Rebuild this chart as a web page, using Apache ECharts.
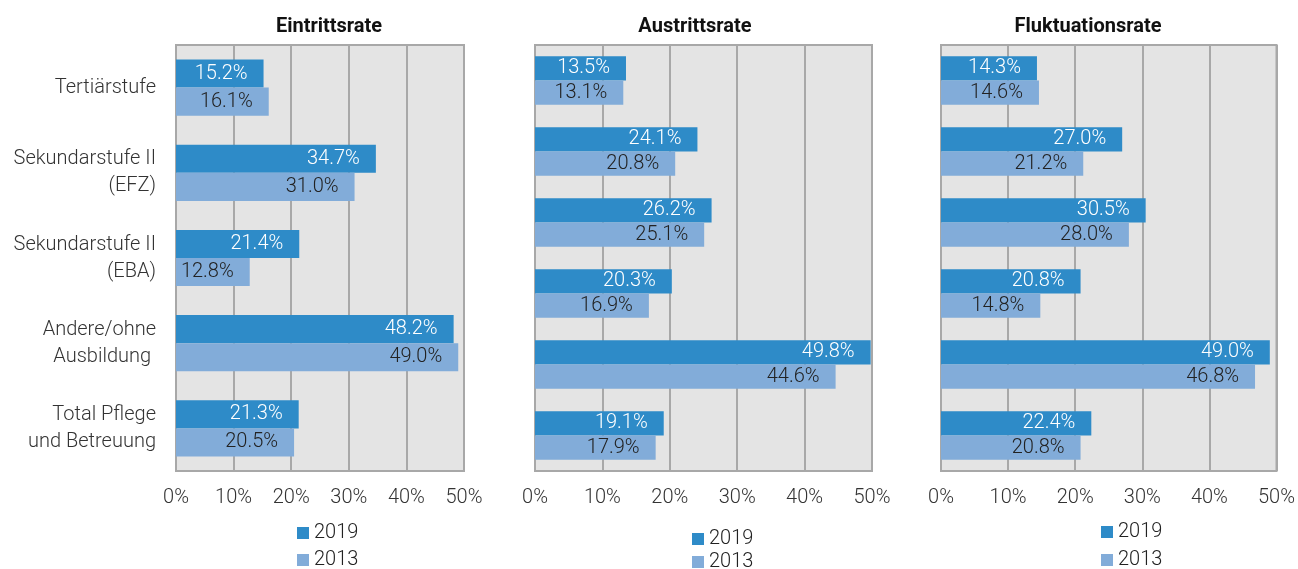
<!DOCTYPE html>
<html>
<head>
<meta charset="utf-8">
<script src="https://cdn.jsdelivr.net/npm/echarts@6/dist/echarts.min.js"></script>
<style>
  html, body { margin: 0; padding: 0; background: #fff; }
  #chart { width: 1298px; height: 569px; }
</style>
</head>
<body>
<div id="chart"></div>
<script>
// categories (left panel has labels, the other two panels show six unlabelled groups)
const categories = ['Tertiärstufe', 'Sekundarstufe II\n(EFZ)', 'Sekundarstufe II\n(EBA)', 'Andere/ohne\nAusbildung ', 'Total Pflege\nund Betreuung']
const groups6 = ['G1', 'G2', 'G3', 'G4', 'G5', 'G6']

const titles = ['Eintrittsrate', 'Austrittsrate', 'Fluktuationsrate']
const xTicks = [0, 10, 20, 30, 40, 50]

// Eintrittsrate
const ein2019 = [15.2, 34.7, 21.4, 48.2, 21.3]
const ein2013 = [16.1, 31.0, 12.8, 49.0, 20.5]
// Austrittsrate
const aus2019 = [13.5, 24.1, 26.2, 20.3, 49.8, 19.1]
const aus2013 = [13.1, 20.8, 25.1, 16.9, 44.6, 17.9]
// Fluktuationsrate
const flu2019 = [14.3, 27.0, 30.5, 20.8, 49.0, 22.4]
const flu2013 = [14.6, 21.2, 28.0, 14.8, 46.8, 20.8]

const C2019 = '#2e8bc8'
const C2013 = '#82acd9'
const FONT = 'Roboto'

const panels = [
  { cats: categories, d19: ein2019, d13: ein2013, left: 176, right: 834, gap: '34%', showY: true,
    titleX: 324, leg: [297, 523, 550] },
  { cats: groups6, d19: aus2019, d13: aus2013, left: 535, right: 426, gap: '32%', showY: false,
    titleX: 690, leg: [692, 529, 552] },
  { cats: groups6, d19: flu2019, d13: flu2013, left: 941, right: 19, gap: '32%', showY: false,
    titleX: 1083, leg: [1101, 522, 550] }
]

const chart = echarts.init(document.getElementById('chart'))

const grid = [], xAxis = [], yAxis = [], series = [], title = [], legend = []

const barLabel = (color) => ({
  show: true,
  position: 'insideRight',
  distance: 16,
  color: color,
  fontFamily: FONT,
  fontWeight: 300,
  fontSize: 20,
  formatter: p => p.value.toFixed(1) + '%'
})

const legendItem = (name, left, top) => ({
  data: [name], left: left, top: top,
  itemWidth: 12, itemHeight: 12, itemGap: 0, icon: 'rect', padding: 0,
  textStyle: { fontFamily: FONT, fontWeight: 300, fontSize: 20, color: '#222' }
})

panels.forEach((p, i) => {
  grid.push({
    left: p.left, right: p.right, top: 45, bottom: 98,
    show: true, backgroundColor: '#e4e4e4', borderColor: '#a8a8a8', borderWidth: 2
  })
  xAxis.push({
    type: 'value', gridIndex: i, min: xTicks[0], max: xTicks[xTicks.length - 1], interval: 10,
    axisLine: { show: false }, axisTick: { show: false },
    splitLine: { show: true, lineStyle: { color: '#a8a8a8', width: 2 } },
    axisLabel: { color: '#333', fontFamily: FONT, fontWeight: 300, fontSize: 20, margin: 17, formatter: '{value}%' }
  })
  yAxis.push({
    type: 'category', gridIndex: i, data: p.cats, inverse: true,
    axisLine: { show: false }, axisTick: { show: false },
    axisLabel: { show: p.showY, color: '#333', fontFamily: FONT, fontWeight: 300, fontSize: 20, lineHeight: 27, margin: 20, align: 'right' }
  })
  series.push({
    name: '2019', type: 'bar', xAxisIndex: i, yAxisIndex: i, data: p.d19,
    barGap: '0%', barCategoryGap: p.gap,
    itemStyle: { color: C2019 }, label: barLabel('#ffffff')
  })
  series.push({
    name: '2013', type: 'bar', xAxisIndex: i, yAxisIndex: i, data: p.d13,
    barGap: '0%', barCategoryGap: p.gap,
    itemStyle: { color: C2013 }, label: barLabel('#222222')
  })
  title.push({
    text: titles[i], left: p.titleX, top: 12, textAlign: 'center',
    textStyle: { fontFamily: FONT, fontWeight: 'bold', fontSize: 20, color: '#111' }
  })
  legend.push(legendItem('2019', p.leg[0], p.leg[1]))
  legend.push(legendItem('2013', p.leg[0], p.leg[2]))
})

chart.setOption({
  animation: false,
  title, legend, grid, xAxis, yAxis, series
})
</script>
</body>
</html>
